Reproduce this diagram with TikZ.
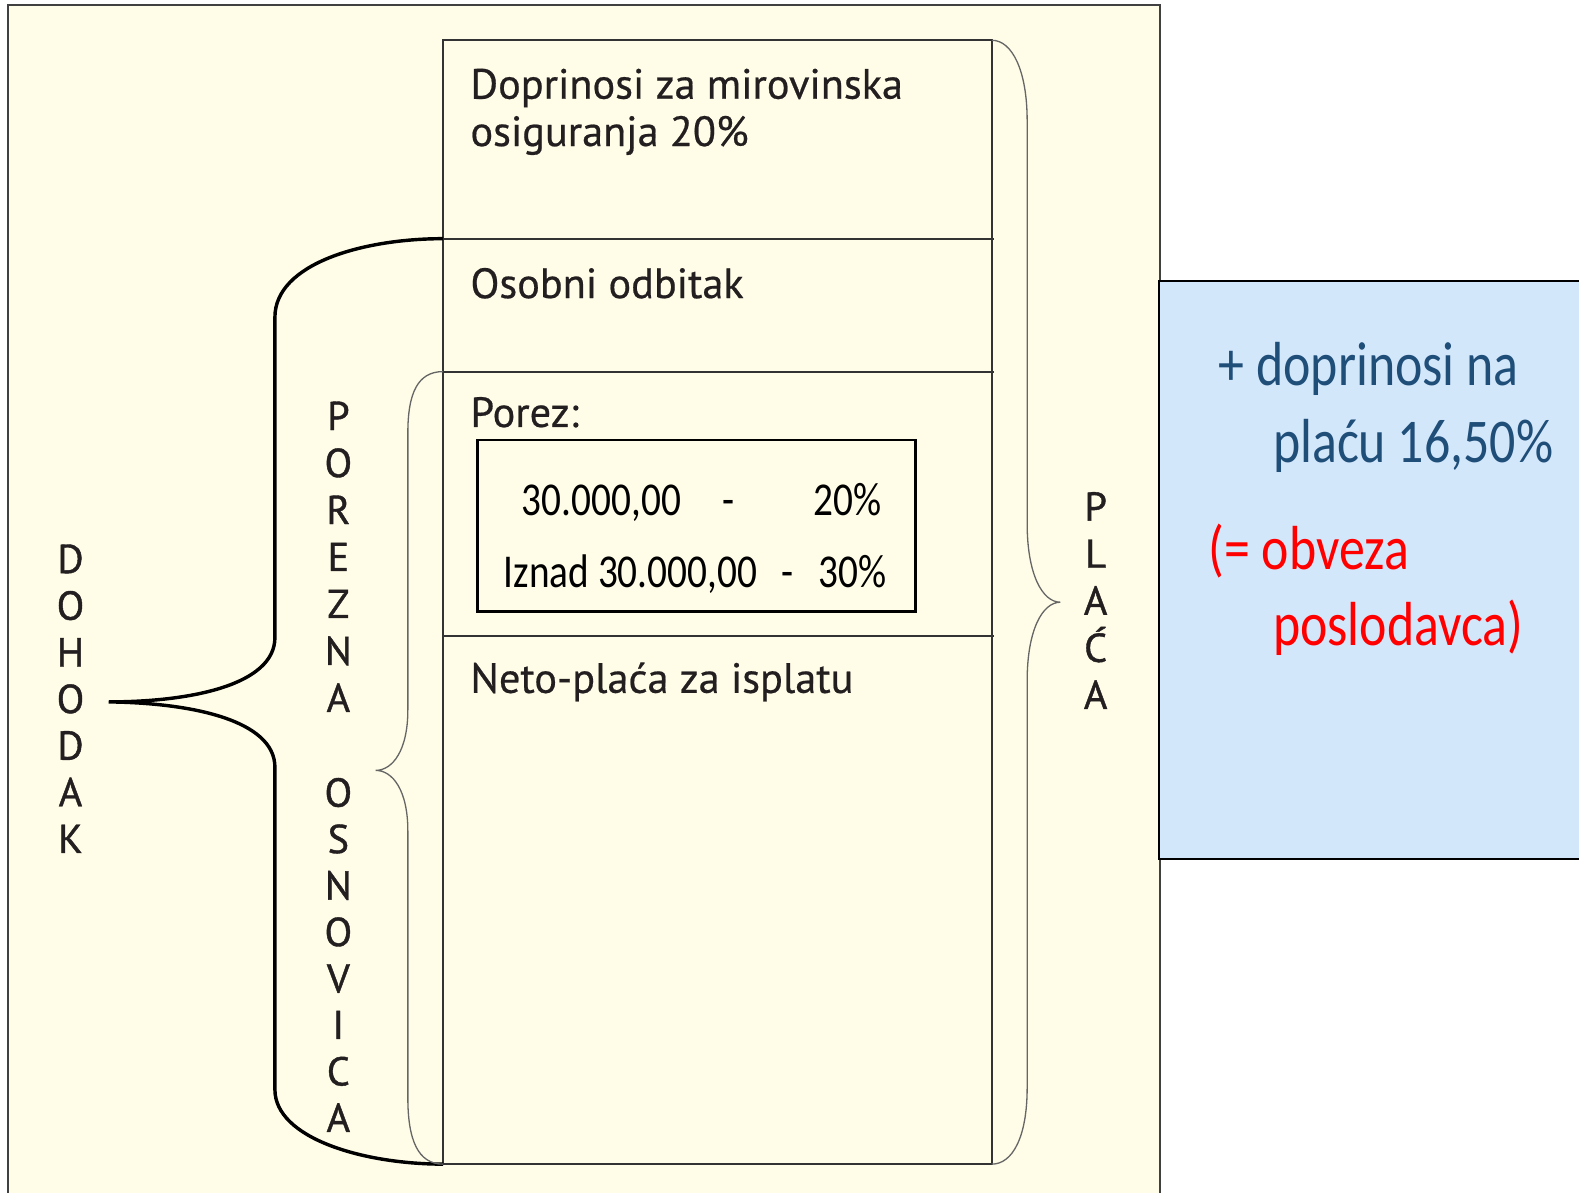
\documentclass[tikz,border=0pt]{standalone}
\usepackage{fontspec}
\setmainfont{PT Sans}
\newfontfamily\bodyfont{PT Sans}[FakeBold=0.5]
\newfontfamily\letterfont{PT Sans}[FakeBold=1]
\newfontfamily\calib{Carlito}
\usepackage{graphicx}
\definecolor{panelyellow}{RGB}{255,253,232}
\definecolor{panelblue}{RGB}{211,231,251}
\definecolor{inkblue}{RGB}{31,78,121}
\definecolor{ink}{RGB}{35,31,32}
\definecolor{alarmred}{RGB}{255,0,0}
\newcommand{\tallt}[1]{\scalebox{1}[1.2]{#1}}
\tikzset{
  panel/.style={fill=panelyellow, draw=black!75, line width=2pt},
  bluepanel/.style={fill=panelblue, draw=black, line width=2.5pt},
  tabline/.style={draw=black!80, line width=2pt},
  bigbrace/.style={draw=black, line width=3.4pt},
  thinbrace/.style={draw=black!60, line width=1.3pt},
  bodytext/.style={font=\bodyfont\fontsize{42}{48}\selectfont, text=ink, inner sep=0pt, anchor=base west},
  letter/.style={font=\letterfont\fontsize{40}{46}\selectfont, text=ink, inner sep=0pt, anchor=base},
  ratebox/.style={draw=black, line width=2.5pt},
  ratetext/.style={font=\calib\fontsize{39}{40}\selectfont, text=black, inner sep=0pt, anchor=base west},
  sidetext/.style={font=\calib\fontsize{51.5}{60}\selectfont, inner sep=0pt, anchor=base west},
}
\begin{document}
\begin{tikzpicture}[x=1pt,y=-1pt]
\useasboundingbox (0,0) rectangle (1568,1184);
\fill[white] (0,0) rectangle (1568,1184);
% yellow panel
\path[panel] (8,5) rectangle (1152,1210);
% blue panel
\path[bluepanel] (1151,279) rectangle (1600,853);
% table
\coordinate (tl) at (440,40);
\coordinate (tr) at (985,40);
\coordinate (bl) at (440,1156);
\coordinate (br) at (985,1156);
\coordinate (l1) at (440,237);
\coordinate (r1) at (987,237);
\coordinate (l2) at (440,369);
\coordinate (r2) at (987,369);
\coordinate (l3) at (440,632);
\coordinate (r3) at (987,632);
\path[tabline] (tl) -- (tr) -- (br) -- (bl) -- cycle;
\path[tabline] (l1) -- (r1);
\path[tabline] (l2) -- (r2);
\path[tabline] (l3) -- (r3);
% braces
\coordinate (dohtip) at (108,697);
\coordinate (portip) at (373,765);
\coordinate (platip) at (1053,598);
\path[bigbrace] (l1) .. controls (360,237) and (273,262) .. (273,315)
  -- (273,633) .. controls (273,680) and (190,697) .. (dohtip)
  .. controls (190,698) and (273,715) .. (273,762)
  -- (273,1082) .. controls (273,1130) and (360,1156) .. (bl);
\path[thinbrace] (l2) .. controls (415,369) and (405,390) .. (405,430)
  -- (405,705) .. controls (405,745) and (390,765) .. (portip)
  .. controls (390,765) and (405,785) .. (405,825)
  -- (405,1090) .. controls (405,1132) and (415,1156) .. (bl);
\path[thinbrace] (tr) .. controls (1005,40) and (1020,70) .. (1020,120)
  -- (1020,520) .. controls (1020,570) and (1035,598) .. (platip)
  .. controls (1035,598) and (1020,626) .. (1020,676)
  -- (1020,1080) .. controls (1020,1130) and (1005,1156) .. (br);
% vertical letters
\foreach \ch [count=\i] in {D,O,H,O,D,A,K}
  \node[letter] (doh\i) at (70,{569+46.33*(\i-1)}) {\ch};
\foreach \ch [count=\i] in {P,O,R,E,Z,N,A}
  \node[letter] (por\i) at (336,{427+46.67*(\i-1)}) {\ch};
\foreach \ch [count=\i] in {O,S,N,O,V,I,C,A}
  \node[letter] (osn\i) at (336,{801+46.14*(\i-1)}) {\ch};
\foreach \ch [count=\i] in {P,L,A,Ć,A}
  \node[letter] (pla\i) at (1088,{517+46.75*(\i-1)}) {\ch};
% table texts
\node[bodytext] (dop1) at (467,98) {Doprinosi za mirovinska};
\node[bodytext] (dop2) at (467,145) {osiguranja 20\%};
\node[bodytext] (odb) at (467,296) {Osobni odbitak};
\node[bodytext] (porez) at (467,424) {Porez:};
\node[bodytext] (neto) at (467,688) {Neto-plaća za isplatu};
% rate box
\path[ratebox] (474,437) rectangle (909,607);
\node[ratetext] (a1) at (518,512) {\tallt{30.000,00}};
\node[ratetext] (a2) at (717,512) {\tallt{-}};
\node[ratetext] (a3) at (808,512) {\tallt{20\%}};
\node[ratetext] (b1) at (500,583) {\tallt{Iznad 30.000,00}};
\node[ratetext] (b2) at (776,583) {\tallt{-}};
\node[ratetext] (b3) at (813,583) {\tallt{30\%}};
% side panel texts
\node[sidetext, text=inkblue] (s1) at (1210,383) {\tallt{+ doprinosi na}};
\node[sidetext, text=inkblue] (s2) at (1264,459) {\tallt{plaću 16,50\%}};
\node[sidetext, text=alarmred] (s3) at (1200,566) {\tallt{(= obveza}};
\node[sidetext, text=alarmred] (s4) at (1264,641) {\tallt{poslodavca)}};
\end{tikzpicture}
\end{document}
